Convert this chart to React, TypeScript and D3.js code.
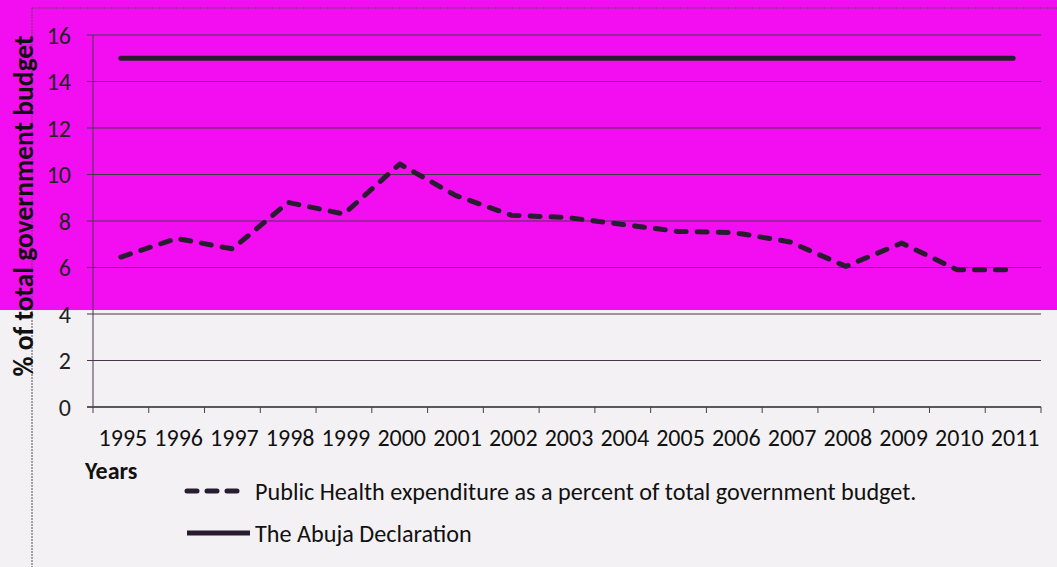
import React from "react";
import * as d3 from "d3";

const years = ["1995", "1996", "1997", "1998", "1999", "2000", "2001", "2002", "2003", "2004", "2005", "2006", "2007", "2008", "2009", "2010", "2011"];
const healthShare = [6.45, 7.25, 6.8, 8.8, 8.3, 10.45, 9.1, 8.25, 8.15, 7.85, 7.55, 7.5, 7.1, 6.05, 7.05, 5.9, 5.9];
const abujaTarget = years.map(() => 15);
const yTicks = [0, 2, 4, 6, 8, 10, 12, 14, 16];

const W = 1057;
const H = 567;
const margin = { left: 93, right: 16, top: 35, bottom: 160 };
const font = "Calibri, Carlito, 'Liberation Sans', Arial, sans-serif";
const ink = "#2a1c30";

const App = () => {
  const x = d3.scaleBand().domain(years).range([margin.left, W - margin.right]).padding(0);
  const y = d3.scaleLinear().domain([0, 16]).range([H - margin.bottom, margin.top]);
  const cx = (yr: string) => (x(yr) as number) + x.bandwidth() / 2;

  const line = d3
    .line<number>()
    .x((_, i) => cx(years[i]))
    .y((d) => y(d));

  const x0 = margin.left;
  const x1 = W - margin.right;
  const bottom = y(0);
  const bounds = [...years.map((yr) => x(yr) as number), x1];

  return (
    <svg width={W} height={H} style={{ position: "absolute", left: 0, top: 0 }}>
      <rect x={0} y={0} width={W} height={310} fill="#f20ef0" />
      <rect x={0} y={310} width={W} height={H - 310} fill="#f3f1f4" />

      {/* outer frame */}
      <line x1={32} y1={8} x2={W} y2={8} stroke="#5a4a5a" strokeWidth={1} strokeDasharray="2 1" />
      <line x1={32} y1={8} x2={32} y2={H} stroke="#5a4a5a" strokeWidth={1} strokeDasharray="2 1" />

      {/* grid + y ticks */}
      {yTicks.map((t) => (
        <g key={t}>
          <line x1={x0 - 6} x2={x1} y1={y(t)} y2={y(t)} stroke="#4a3550" strokeWidth={1} />
          <text x={71} y={y(t)} dy="0.36em" textAnchor="end" fontFamily={font} fontSize={24} fill="#222">
            {t}
          </text>
        </g>
      ))}
      <line x1={x0} x2={x0} y1={margin.top} y2={bottom} stroke="#4a3550" strokeWidth={1} />
      <line x1={x0 - 6} x2={x1} y1={bottom} y2={bottom} stroke="#444" strokeWidth={1.5} />
      {bounds.map((b, i) => (
        <line key={i} x1={b} x2={b} y1={bottom} y2={bottom + 6} stroke="#444" strokeWidth={1} />
      ))}
      {years.map((yr) => (
        <text key={yr} x={cx(yr) + 2} y={446} textAnchor="middle" fontFamily={font} fontSize={24} fill="#111">
          {yr}
        </text>
      ))}

      {/* series */}
      <path d={line(abujaTarget) as string} fill="none" stroke={ink} strokeWidth={5} strokeLinecap="round" />
      <path
        d={line(healthShare) as string}
        fill="none"
        stroke={ink}
        strokeWidth={5}
        strokeLinecap="round"
        strokeLinejoin="round"
        strokeDasharray="10 11"
      />

      {/* axis titles */}
      <text
        transform={`translate(33, ${206}) rotate(-90)`}
        textAnchor="middle"
        fontFamily={font}
        fontSize={27.5}
        fontWeight="bold"
        fill="#111"
      >
        % of total government budget
      </text>
      <text x={85} y={479} fontFamily={font} fontSize={24} fontWeight="bold" fill="#111">
        Years
      </text>

      {/* legend */}
      <line x1={187} x2={238} y1={491} y2={491} stroke={ink} strokeWidth={5} strokeLinecap="round" strokeDasharray="10 10" />
      <text x={255} y={500} fontFamily={font} fontSize={24.2} fill="#111">
        Public Health expenditure as a percent of total government budget.
      </text>
      <line x1={187} x2={250} y1={533} y2={533} stroke={ink} strokeWidth={5} />
      <text x={255} y={542} fontFamily={font} fontSize={24.2} fill="#111">
        The Abuja Declaration
      </text>
    </svg>
  );
};

export default App;
